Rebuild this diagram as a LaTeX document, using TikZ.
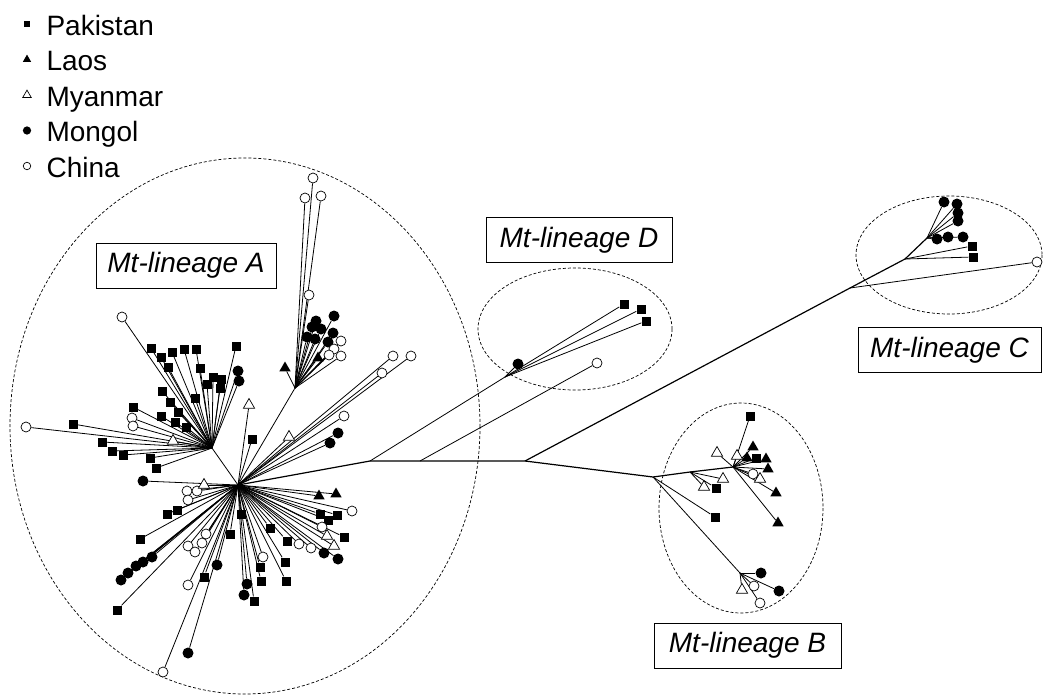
\documentclass[tikz,border=0pt]{standalone}
\usepackage{fontspec}
\setmainfont{Liberation Sans}
\usetikzlibrary{shapes.geometric,backgrounds}

\tikzset{
  branch/.style={line width=0.8pt},
  stem/.style={line width=1.2pt},
  clade/.style={dash pattern=on 3pt off 2pt, line width=0.7pt},
  pk/.style={rectangle, fill=black, inner sep=0pt, minimum size=9pt},
  lo/.style={regular polygon, regular polygon sides=3, fill=black, inner sep=0pt, minimum size=13pt},
  my/.style={regular polygon, regular polygon sides=3, draw, fill=white, line width=0.7pt, inner sep=0pt, minimum size=13pt},
  mg/.style={circle, fill=black, inner sep=0pt, minimum size=11pt},
  cn/.style={circle, draw, fill=white, line width=0.7pt, inner sep=0pt, minimum size=10pt},
  lineage/.style={draw, fill=white, line width=0.8pt, minimum height=45pt, font=\fontsize{28}{32}\selectfont\itshape}
}

\def\leavesUL{151/348/pk, 161/357/pk, 172/352/pk, 184/349/pk, 196/349/pk, 236/346/pk, 168/367/pk, 200/368/pk, 213/377/pk, 221/379/pk, 220/388/pk, 207/384/pk, 162/391/pk, 195/398/pk, 170/402/pk, 178/412/pk, 133/407/pk, 161/416/pk, 175/422/pk, 186/427/pk, 73/424/pk, 102/442/pk, 112/451/pk, 123/455/pk, 150/458/pk, 156/468/pk, 122/317/cn, 132/418/cn, 133/426/cn, 26/427/cn, 238/371/mg, 239/381/mg, 173/441/my}
\def\leavesA{143/481/mg, 187/491/cn, 197/491/cn, 188/500/cn, 204/485/my, 167/514/pk, 177/510/pk, 140/539/pk, 241/514/pk, 230/534/pk, 117/610/pk, 204/577/pk, 270/528/pk, 287/541/pk, 285/562/pk, 260/567/pk, 261/581/pk, 286/581/pk, 254/601/pk, 206/534/cn, 202/543/cn, 188/546/cn, 195/552/cn, 188/585/cn, 163/672/cn, 263/557/cn, 152/557/mg, 143/562/mg, 136/566/mg, 128/573/mg, 121/580/mg, 217/565/mg, 188/653/mg, 247/584/mg, 244/595/mg, 249/405/my, 252/439/pk, 289/437/my, 344/416/cn, 338/433/mg, 330/443/mg, 393/356/cn, 411/356/cn, 382/373/cn, 319/496/lo, 336/494/lo, 352/511/cn, 320/514/pk, 328/520/pk, 337/515/pk, 344/537/pk, 322/527/cn, 327/536/my, 334/546/my, 299/544/cn, 311/548/cn, 324/553/mg, 338/559/mg}
\def\leavesUp{313/178/cn, 305/198/cn, 321/196/cn, 309/295/cn, 334/316/mg, 316/321/mg, 312/327/mg, 321/329/mg, 333/333/mg, 307/337/mg, 315/339/mg, 328/342/mg, 341/341/cn, 334/349/cn, 329/355/cn, 341/356/cn, 318/358/lo, 285/368/lo}
\def\leavesD{624/304/pk, 641/309/pk, 646/321/pk, 518/364/mg}
\def\leavesC{944/202/mg, 957/204/mg, 958/213/mg, 958/221/mg, 937/239/mg, 948/237/mg, 963/237/mg}
\def\leavesB{750/416/pk, 717/453/my, 737/456/my, 753/447/lo, 747/458/lo, 766/459/lo, 768/469/lo, 776/493/lo, 778/523/lo, 756/458/pk, 760/479/my, 753/474/cn}
\def\leavesBl{704/487/my, 716/488/pk, 723/479/my}
\def\leavesBb{761/573/mg, 779/591/mg, 754/586/cn, 760/603/cn, 742/590/my}

\begin{document}
\begin{tikzpicture}[x=1pt,y=-1pt]
\useasboundingbox (0,0) rectangle (1043,696);

% legend
\foreach \sym/\name [count=\i from 0] in {pk/Pakistan, lo/Laos, my/Myanmar, mg/Mongol, cn/China}{
  \node[\sym, scale=0.75] (key\i) at (27,{24+35.5*\i}) {};
  \node[anchor=base west, font=\fontsize{28}{32}\selectfont] (keytext\i) at (43,{35+35.5*\i}) {\name};
}

% clades
\draw[clade] (245,426) ellipse (235 and 268);
\draw[clade] (575,329) ellipse (97 and 61);
\draw[clade] (949,255) ellipse (93 and 59);
\draw[clade] (741,508) ellipse (82 and 105);

% inner nodes of the tree
\coordinate (hubA) at (238,485);
\coordinate (hubUL) at (212,448);
\coordinate (hubUp) at (295,388);
\coordinate (nD1) at (370,461);
\coordinate (nD2) at (420,461);
\coordinate (nD3) at (505,377);
\coordinate (nC0) at (525,461);
\coordinate (nC1) at (850,288);
\coordinate (nC2) at (905,259);
\coordinate (nC3) at (927,238);
\coordinate (nB0) at (653,477);
\coordinate (nB4) at (690,472);
\coordinate (nB1) at (733,467);
\coordinate (nB2) at (740,573);

\draw[stem] (hubA) -- (nD1) -- (nD2) -- (nC0) -- (nB0) -- (nB4) -- (nB1);
\draw[stem] (nC0) -- (nC1) -- (nC2) -- (nC3);
\draw[branch] (hubA) -- (hubUL);
\draw[branch] (hubA) -- (hubUp);
\draw[branch] (nD1) -- (nD3);
\draw[branch] (nB0) -- (nB2);

% leaves
\foreach \x/\y/\sym [count=\i] in \leavesUL{
  \node[\sym] (ul\i) at (\x,\y) {};
  \begin{scope}[on background layer] \draw[branch] (hubUL) -- (ul\i); \end{scope}
}
\foreach \x/\y/\sym [count=\i] in \leavesA{
  \node[\sym] (a\i) at (\x,\y) {};
  \begin{scope}[on background layer] \draw[branch] (hubA) -- (a\i); \end{scope}
}
\foreach \x/\y/\sym [count=\i] in \leavesUp{
  \node[\sym] (up\i) at (\x,\y) {};
  \begin{scope}[on background layer] \draw[branch] (hubUp) -- (up\i); \end{scope}
}
\foreach \x/\y/\sym [count=\i] in \leavesD{
  \node[\sym] (d\i) at (\x,\y) {};
  \begin{scope}[on background layer] \draw[branch] (nD3) -- (d\i); \end{scope}
}
\node[cn] (d5) at (597,363) {};
\draw[branch] (nD2) -- (d5);

\foreach \x/\y/\sym [count=\i] in \leavesC{
  \node[\sym] (c\i) at (\x,\y) {};
  \begin{scope}[on background layer] \draw[branch] (nC3) -- (c\i); \end{scope}
}
\node[pk] (c8) at (972,246) {};
\node[pk] (c9) at (973,257) {};
\node[cn] (c10) at (1037,262) {};
\draw[branch] (nC2) -- (c8);
\draw[branch] (nC2) -- (c9);
\draw[branch] (nC1) -- (c10);

\foreach \x/\y/\sym [count=\i] in \leavesB{
  \node[\sym] (b\i) at (\x,\y) {};
  \begin{scope}[on background layer] \draw[branch] (nB1) -- (b\i); \end{scope}
}
\foreach \x/\y/\sym [count=\i] in \leavesBl{
  \node[\sym] (bl\i) at (\x,\y) {};
  \begin{scope}[on background layer] \draw[branch] (nB4) -- (bl\i); \end{scope}
}
\foreach \x/\y/\sym [count=\i] in \leavesBb{
  \node[\sym] (bb\i) at (\x,\y) {};
  \begin{scope}[on background layer] \draw[branch] (nB2) -- (bb\i); \end{scope}
}
\node[pk] (b0) at (715,517) {};
\draw[branch] (nB0) -- (b0);

% lineage labels
\node[lineage, minimum width=180pt] (labA) at (186,265.5) {Mt-lineage A};
\node[lineage, minimum width=186pt] (labD) at (579,240) {Mt-lineage D};
\node[lineage, minimum width=183pt] (labC) at (949.5,350) {Mt-lineage C};
\node[lineage, minimum width=187pt] (labB) at (747.5,645.5) {Mt-lineage B};
\end{tikzpicture}
\end{document}
